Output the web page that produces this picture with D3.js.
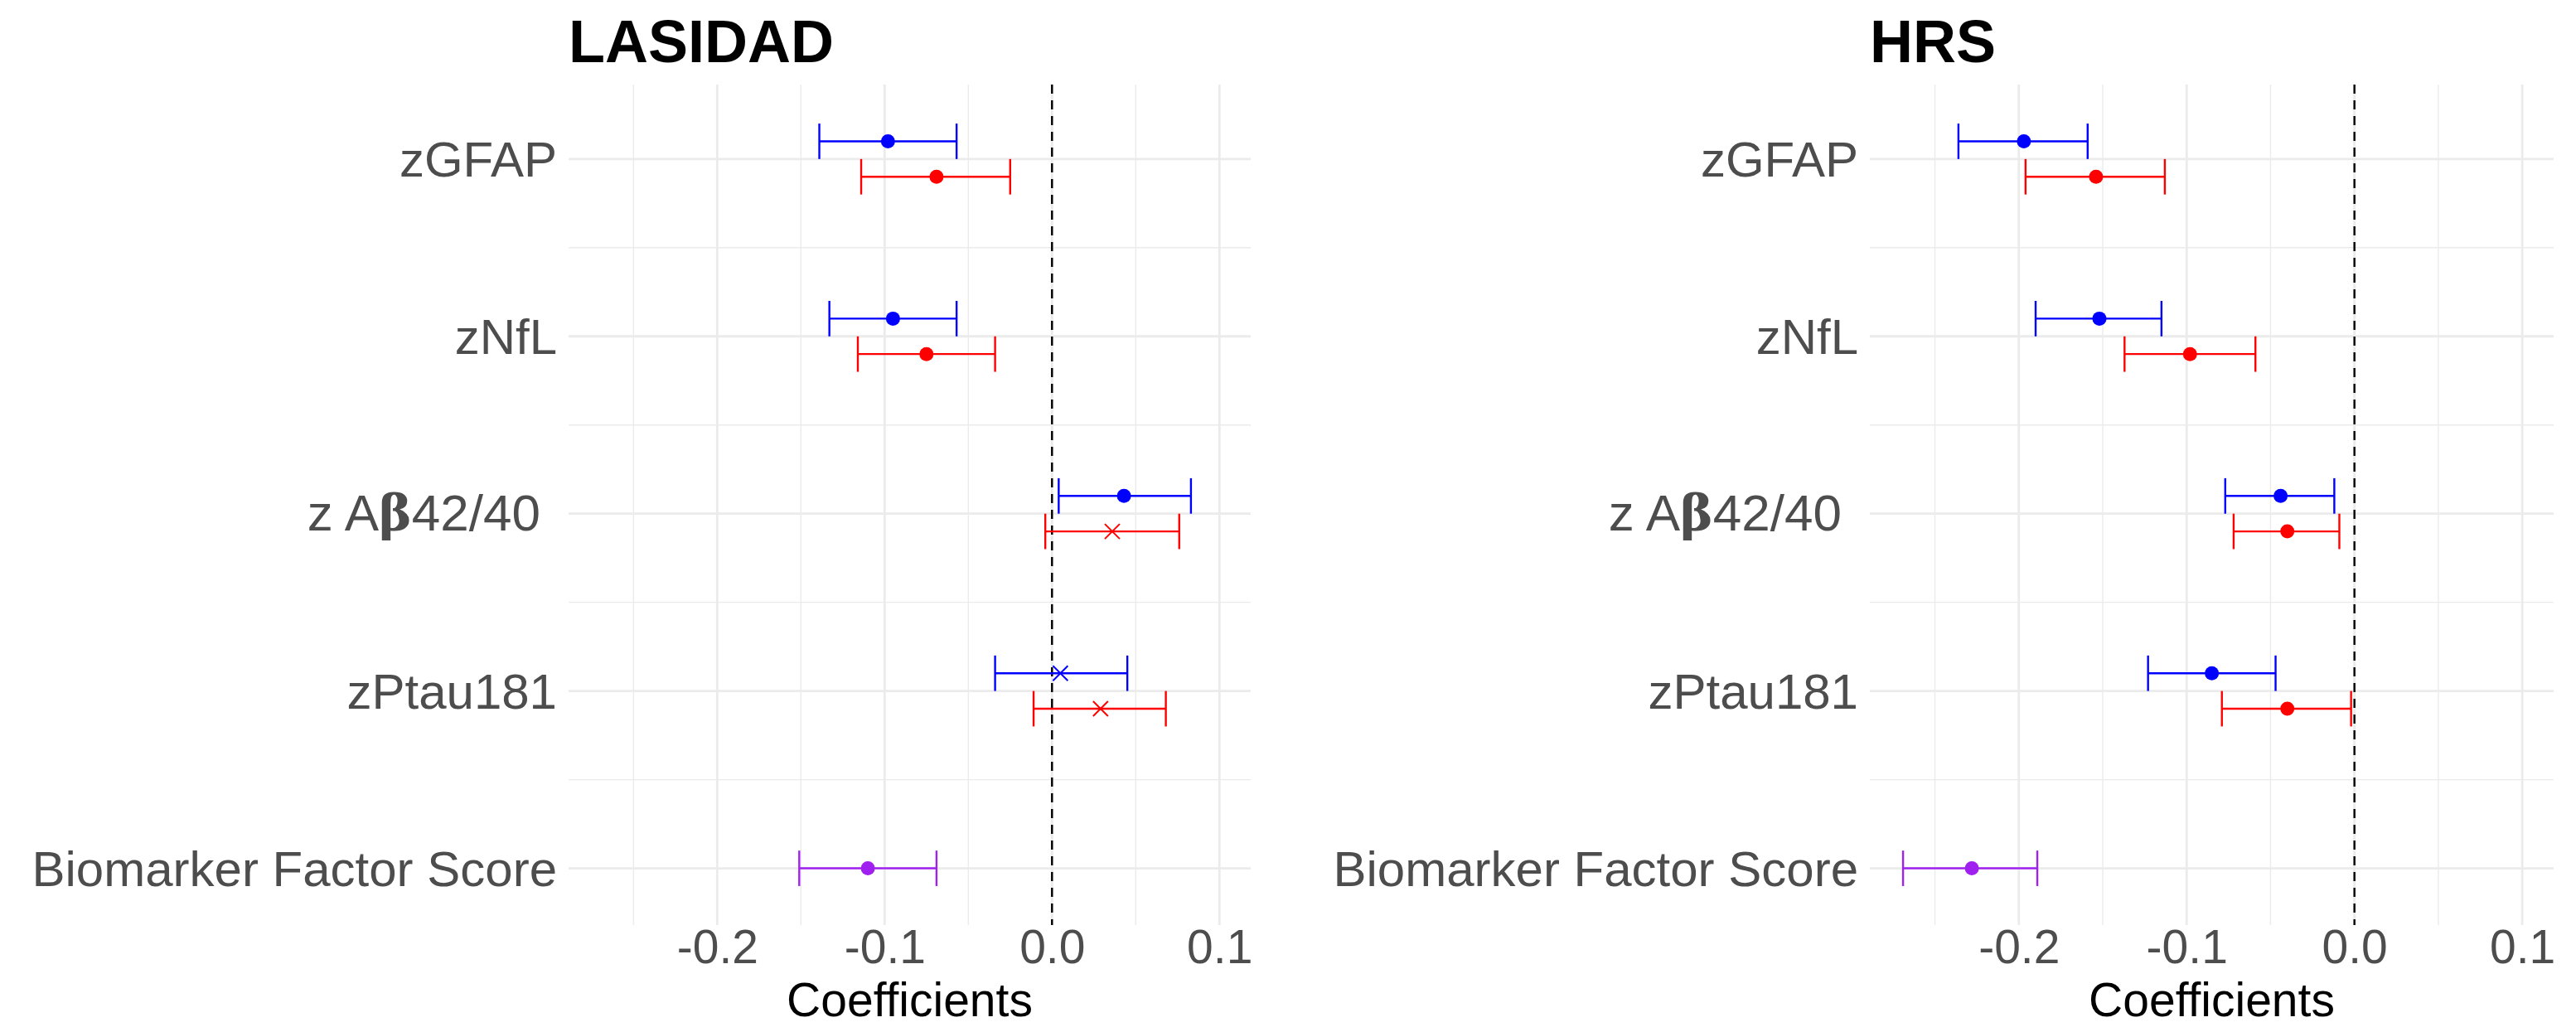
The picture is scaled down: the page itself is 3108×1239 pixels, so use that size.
<!DOCTYPE html>
<html>
<head>
<meta charset="utf-8">
<script src="https://cdn.jsdelivr.net/npm/d3@7"></script>
<style>
  html, body { margin: 0; padding: 0; background: #fff; }
  text { font-family: "Liberation Sans", Arial, Helvetica, sans-serif; }
</style>
</head>
<body>
<svg id="chart" width="3108" height="1239"></svg>
<script>
// categories, top to bottom
const categories = ["zGFAP", "zNfL", "z Aβ42/40", "zPtau181", "Biomarker Factor Score"];
const xTicks = [-0.2, -0.1, 0.0, 0.1];
const xMinor = [-0.25, -0.15, -0.05, 0.05];

// LASIDAD: [estimate, lower, upper, significant]
const lasidadBlue = [
  [-0.098, -0.139, -0.057, true],
  [-0.095, -0.133, -0.057, true],
  [0.043, 0.004, 0.083, true],
  [0.005, -0.034, 0.045, false]
];
const lasidadRed = [
  [-0.069, -0.114, -0.025, true],
  [-0.075, -0.116, -0.034, true],
  [0.036, -0.004, 0.076, false],
  [0.029, -0.011, 0.068, false]
];
const lasidadPurple = [[-0.110, -0.151, -0.069, true]];

// HRS
const hrsBlue = [
  [-0.197, -0.236, -0.159, true],
  [-0.152, -0.190, -0.115, true],
  [-0.044, -0.077, -0.012, true],
  [-0.085, -0.123, -0.047, true]
];
const hrsRed = [
  [-0.154, -0.196, -0.113, true],
  [-0.098, -0.137, -0.059, true],
  [-0.040, -0.072, -0.009, true],
  [-0.040, -0.079, -0.002, true]
];
const hrsPurple = [[-0.228, -0.269, -0.189, true]];

const colors = { blue: "#0000FF", red: "#FF0000", purple: "#A020F0" };

const svg = d3.select("#chart");

function drawPanel(title, left, right, blue, red, purple) {
  const top = 102, bottom = 1116;
  const x = d3.scaleLinear().domain([-0.2888, 0.1187]).range([left, right]);
  const y = d3.scaleLinear().domain([-0.42, 4.32]).range([top, bottom]);
  const g = svg.append("g");

  // grid
  xMinor.forEach(v => g.append("line")
    .attr("x1", x(v)).attr("x2", x(v)).attr("y1", top).attr("y2", bottom)
    .attr("stroke", "#EBEBEB").attr("stroke-width", 1.4));
  d3.range(0.5, 4, 1).forEach(v => g.append("line")
    .attr("x1", left).attr("x2", right).attr("y1", y(v)).attr("y2", y(v))
    .attr("stroke", "#EBEBEB").attr("stroke-width", 1.4));
  xTicks.forEach(v => g.append("line")
    .attr("x1", x(v)).attr("x2", x(v)).attr("y1", top).attr("y2", bottom)
    .attr("stroke", "#EBEBEB").attr("stroke-width", 2.8));
  categories.forEach((c, i) => g.append("line")
    .attr("x1", left).attr("x2", right).attr("y1", y(i)).attr("y2", y(i))
    .attr("stroke", "#EBEBEB").attr("stroke-width", 2.8));

  // x axis
  const axis = g.append("g")
    .attr("transform", `translate(0,${bottom})`)
    .call(d3.axisBottom(x).tickValues(xTicks).tickSize(0).tickPadding(46)
      .tickFormat(d => d.toFixed(1)));
  axis.select(".domain").remove();
  axis.selectAll("text")
    .attr("font-family", "'Liberation Sans', Arial, sans-serif")
    .attr("font-size", 57).attr("fill", "#4D4D4D").attr("dy", 0);

  g.append("text")
    .attr("x", (left + right) / 2).attr("y", 1226)
    .attr("text-anchor", "middle").attr("font-size", 57).attr("fill", "#000")
    .text("Coefficients");

  // y labels
  categories.forEach((c, i) => {
    const t = g.append("text")
      .attr("text-anchor", "end").attr("fill", "#4D4D4D");
    if (c.includes("β")) {
      t.attr("x", left - 34).attr("y", y(i) + 20).attr("font-size", 62);
      t.append("tspan").text("z A");
      t.append("tspan").attr("font-family", "'DejaVu Serif', 'Liberation Serif', serif")
        .attr("font-weight", "bold").attr("font-size", 60).text("β");
      t.append("tspan").text("42/40");
    } else {
      t.attr("x", left - 14).attr("y", y(i) + 21).attr("font-size", 60).text(c);
    }
  });

  // title
  g.append("text")
    .attr("x", left).attr("y", 75)
    .attr("font-size", 72).attr("font-weight", "bold").attr("fill", "#000")
    .text(title);

  // zero line
  g.append("line")
    .attr("x1", x(0)).attr("x2", x(0)).attr("y1", top).attr("y2", bottom)
    .attr("stroke", "#000").attr("stroke-width", 2.4)
    .attr("stroke-dasharray", "11,8");

  const series = [
    { rows: blue, color: colors.blue, off: -0.1 },
    { rows: red, color: colors.red, off: 0.1 },
    { rows: purple, color: colors.purple, off: 0, start: 4 }
  ];
  const cap = 0.1;
  series.forEach(s => {
    s.rows.forEach((r, k) => {
      const idx = (s.start || 0) + k;
      const yc = y(idx + s.off);
      const [est, lo, hi, sig] = r;
      g.append("line").attr("x1", x(lo)).attr("x2", x(hi))
        .attr("y1", yc).attr("y2", yc).attr("stroke", s.color).attr("stroke-width", 2.4);
      [lo, hi].forEach(v => g.append("line")
        .attr("x1", x(v)).attr("x2", x(v))
        .attr("y1", y(idx + s.off - cap)).attr("y2", y(idx + s.off + cap))
        .attr("stroke", s.color).attr("stroke-width", 2.4));
      if (sig) {
        g.append("circle").attr("cx", x(est)).attr("cy", yc).attr("r", 8.5)
          .attr("fill", s.color);
      } else {
        const h = 9;
        g.append("path")
          .attr("d", `M${x(est) - h},${yc - h}L${x(est) + h},${yc + h}M${x(est) - h},${yc + h}L${x(est) + h},${yc - h}`)
          .attr("stroke", s.color).attr("stroke-width", 2).attr("fill", "none");
      }
    });
  });
}

drawPanel("LASIDAD", 686, 1509, lasidadBlue, lasidadRed, lasidadPurple);
drawPanel("HRS", 2256, 3081, hrsBlue, hrsRed, hrsPurple);
</script>
</body>
</html>
